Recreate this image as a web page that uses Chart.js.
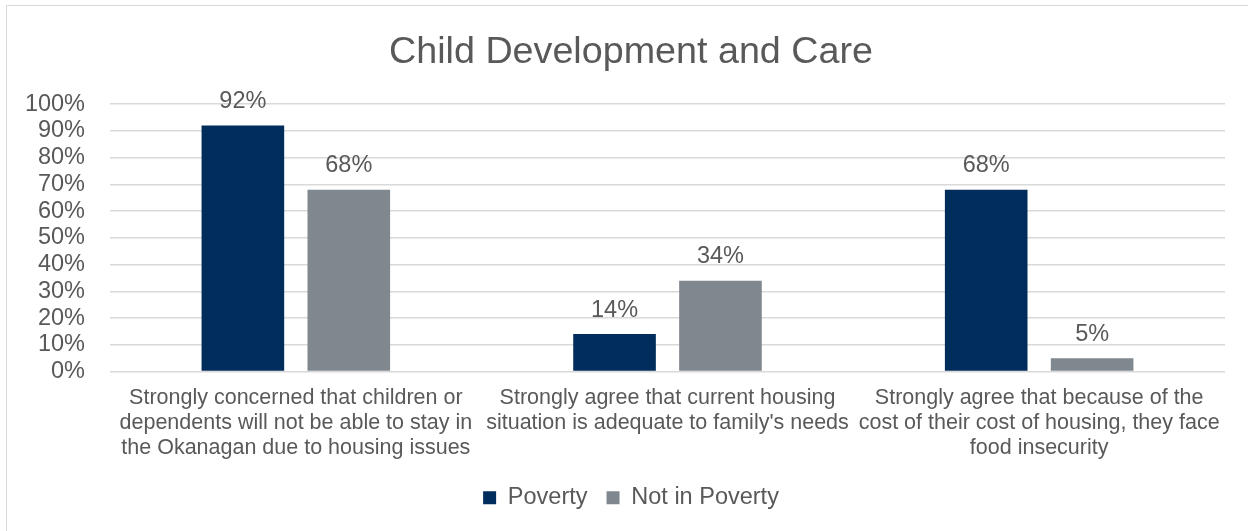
<!DOCTYPE html>
<html>
<head>
<meta charset="utf-8">
<script src="https://cdn.jsdelivr.net/npm/chart.js@4"></script>
<style>
  html, body { margin: 0; padding: 0; background: #fff; overflow: hidden; }
  #frame {
    position: absolute; left: 6px; top: 5px;
    width: 1250px; height: 540px;
    border-left: 1.5px solid #d9d9d9; border-top: 1.5px solid #d9d9d9;
  }
</style>
</head>
<body>
<div id="frame"><canvas id="chart"></canvas></div>
<script>
var categories = [
  ['Strongly concerned that children or', 'dependents will not be able to stay in', 'the Okanagan due to housing issues'],
  ['Strongly agree that current housing', "situation is adequate to family's needs"],
  ['Strongly agree that because of the', 'cost of their cost of housing, they face', 'food insecurity']
];
var poverty = [92, 14, 68];
var notInPoverty = [68, 34, 5];

var textColor = '#595959';
var fontFamily = '"Liberation Sans", Arial, sans-serif';

// value labels above each bar
var barLabels = {
  id: 'barLabels',
  afterDatasetsDraw: function(chart) {
    var ctx = chart.ctx;
    ctx.save();
    ctx.font = '23.5px ' + fontFamily;
    ctx.fillStyle = textColor;
    ctx.textAlign = 'center';
    ctx.textBaseline = 'middle';
    chart.data.datasets.forEach(function(ds, i) {
      chart.getDatasetMeta(i).data.forEach(function(bar, j) {
        ctx.fillText(ds.data[j] + '%', bar.x, bar.y - 24);
      });
    });
    ctx.restore();
  }
};

// title and legend sit centred on the whole frame, not on the plot
var centreBlocks = {
  id: 'centreBlocks',
  afterLayout: function(chart) {
    [chart.titleBlock, chart.legend].forEach(function(box) {
      if (box) { box.left += 15; box.right += 15; }
    });
  }
};

new Chart(document.getElementById('chart'), {
  type: 'bar',
  data: {
    labels: categories,
    datasets: [
      { label: 'Poverty', data: poverty, backgroundColor: '#002d5c' },
      { label: 'Not in Poverty', data: notInPoverty, backgroundColor: '#80888f' }
    ]
  },
  plugins: [barLabels, centreBlocks],
  options: {
    responsive: true,
    maintainAspectRatio: false,
    animation: false,
    layout: { padding: { left: 0, right: 32, top: 0, bottom: 26.5 } },
    datasets: { bar: { categoryPercentage: 0.57, barPercentage: 0.78 } },
    plugins: {
      title: {
        display: true,
        text: 'Child Development and Care',
        color: textColor,
        font: { family: fontFamily, size: 37.7, weight: 'normal' },
        padding: { top: 24, bottom: 29 }
      },
      legend: {
        position: 'bottom',
        labels: {
          color: textColor,
          font: { family: fontFamily, size: 23.5 },
          boxWidth: 13,
          boxHeight: 13,
          padding: 19
        }
      },
      tooltip: { enabled: false }
    },
    scales: {
      x: {
        grid: { display: false },
        border: { display: false },
        ticks: {
          color: textColor,
          font: { family: fontFamily, size: 21.5, lineHeight: 1.17 },
          maxRotation: 0,
          autoSkip: false,
          padding: 6
        }
      },
      y: {
        min: 0,
        max: 100,
        afterFit: function(scale) { scale.width = 103; },
        grid: { color: '#d9d9d9', lineWidth: 1.5, drawTicks: false },
        border: { display: false },
        ticks: {
          stepSize: 10,
          autoSkip: false,
          color: textColor,
          font: { family: fontFamily, size: 23.5 },
          padding: 25,
          callback: function(value) { return value + '%'; }
        }
      }
    }
  }
});
</script>
</body>
</html>
